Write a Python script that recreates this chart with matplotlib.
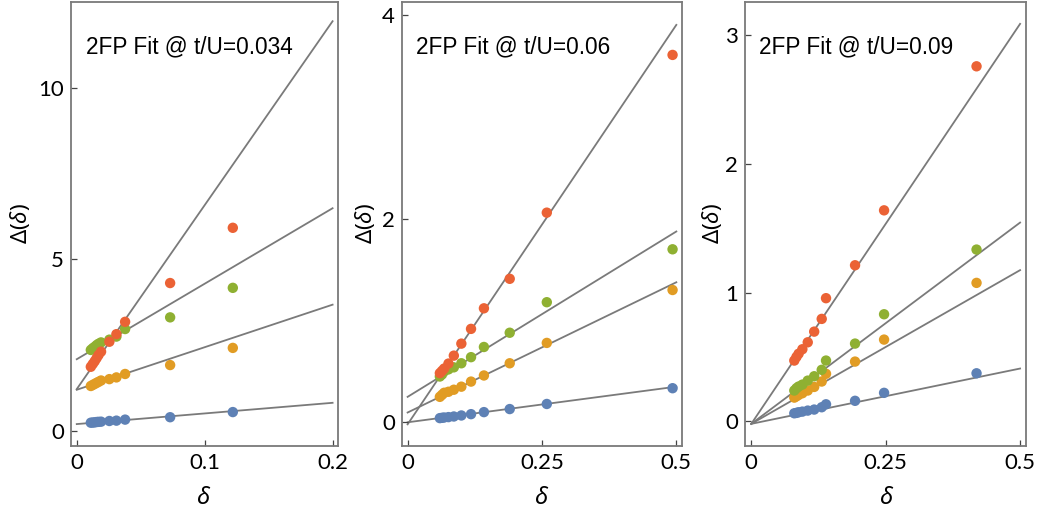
import numpy as np
import matplotlib
matplotlib.use('Agg')
import matplotlib.pyplot as plt

plt.rcParams['font.family'] = ['Lato', 'DejaVu Sans']
plt.rcParams['mathtext.fontset'] = 'custom'
plt.rcParams['mathtext.rm'] = 'Noto Sans'
plt.rcParams['mathtext.it'] = 'Noto Sans:italic'

# colores tipo Mathematica
c_blue, c_orange, c_green, c_red = '#5E81B5', '#E19C24', '#8FB032', '#EB6235'
c_fit = '#7a7a7a'

# ---- panel 1: t/U = 0.034
d1 = [0.011, 0.0125, 0.014, 0.0155, 0.017, 0.019, 0.0255, 0.031, 0.0378, 0.073, 0.122]
blue1 = [0.24, 0.245, 0.25, 0.26, 0.265, 0.27, 0.29, 0.30, 0.33, 0.40, 0.55]
orange1 = [1.31, 1.34, 1.37, 1.40, 1.43, 1.47, 1.51, 1.56, 1.66, 1.92, 2.42]
green1 = [2.36, 2.41, 2.45, 2.50, 2.54, 2.58, 2.66, 2.75, 2.97, 3.31, 4.17]
red1 = [1.87, 1.95, 2.03, 2.12, 2.21, 2.31, 2.60, 2.82, 3.18, 4.31, 5.92]
# ajustes (ordenada, pendiente)
fit1 = [(0.20, 3.1), (1.20, 12.4), (2.09, 22.0), (1.22, 53.6)]

# ---- panel 2: t/U = 0.06
d2 = [0.060, 0.064, 0.068, 0.076, 0.086, 0.100, 0.118, 0.142, 0.190, 0.259, 0.493]
blue2 = [0.041, 0.044, 0.047, 0.051, 0.057, 0.067, 0.080, 0.100, 0.13, 0.18, 0.335]
orange2 = [0.25, 0.27, 0.29, 0.30, 0.32, 0.35, 0.40, 0.46, 0.58, 0.78, 1.30]
green2 = [0.45, 0.47, 0.50, 0.52, 0.54, 0.58, 0.64, 0.74, 0.88, 1.18, 1.70]
red2 = [0.483, 0.505, 0.528, 0.577, 0.655, 0.773, 0.918, 1.12, 1.41, 2.06, 3.61]
fit2 = [(0.0, 0.70), (0.096, 2.56), (0.25, 3.25), (-0.02, 7.85)]

# ---- panel 3: t/U = 0.09
d3 = [0.080, 0.084, 0.088, 0.095, 0.105, 0.117, 0.131, 0.139, 0.193, 0.247, 0.419]
blue3 = [0.062, 0.065, 0.070, 0.075, 0.083, 0.091, 0.109, 0.132, 0.159, 0.221, 0.373]
orange3 = [0.184, 0.194, 0.205, 0.218, 0.239, 0.267, 0.309, 0.369, 0.464, 0.635, 1.076]
green3 = [0.239, 0.257, 0.270, 0.285, 0.316, 0.35, 0.40, 0.472, 0.604, 0.832, 1.335]
red3 = [0.472, 0.50, 0.525, 0.56, 0.614, 0.697, 0.796, 0.957, 1.213, 1.64, 2.76]
fit3 = [(-0.02, 0.86), (-0.02, 2.39), (-0.02, 3.13), (-0.02, 6.22)]

titulos = ['2FP Fit @ t/U=0.034', '2FP Fit @ t/U=0.06', '2FP Fit @ t/U=0.09']

fig = plt.figure(figsize=(10.39, 5.14), dpi=100)
W, H = 1039.0, 514.0

paneles = [
    dict(box=(71, 337.7), d=d1, ys=[blue1, orange1, green1, red1], fit=fit1, dmax=0.2,
         xlim=(-0.0045, 0.204), ylim=(-0.43, 12.5), xt=[0, 0.1, 0.2], xtl=['0', '0.1', '0.2'],
         yt=[0, 5, 10], ylab_x=20, xlab_x=204, tx=86),
    dict(box=(401.7, 681.7), d=d2, ys=[blue2, orange2, green2, red2], fit=fit2, dmax=0.5,
         xlim=(-0.011, 0.510), ylim=(-0.23, 4.13), xt=[0, 0.25, 0.5], xtl=['0', '0.25', '0.5'],
         yt=[0, 2, 4], ylab_x=365, xlab_x=541.7, tx=416),
    dict(box=(745, 1026), d=d3, ys=[blue3, orange3, green3, red3], fit=fit3, dmax=0.5,
         xlim=(-0.0117, 0.511), ylim=(-0.19, 3.26), xt=[0, 0.25, 0.5], xtl=['0', '0.25', '0.5'],
         yt=[0, 1, 2, 3], ylab_x=712, xlab_x=886.7, tx=759),
]

colores = [c_blue, c_orange, c_green, c_red]
top, bottom = 2.0, 445.7

for p, titulo in zip(paneles, titulos):
    x0, x1 = p['box']
    ax = fig.add_axes([x0 / W, 1 - bottom / H, (x1 - x0) / W, (bottom - top) / H])
    xx = np.array([0.0, p['dmax']])
    for (b, m) in p['fit']:
        ax.plot(xx, b + m * xx, color=c_fit, lw=1.3, zorder=1)
    for yv, c in zip(p['ys'], colores):
        ax.scatter(p['d'], yv, s=56, color=c, edgecolors='none', zorder=2)
    ax.set_xlim(*p['xlim'])
    ax.set_ylim(*p['ylim'])
    ax.set_xticks(p['xt'])
    ax.set_xticklabels(p['xtl'])
    ax.set_yticks(p['yt'])
    ax.tick_params(direction='in', length=4, width=0.9, color='#444444',
                   labelsize=16, pad=5, top=False, right=False)
    for s in ax.spines.values():
        s.set_color('#7a7a7a')
        s.set_linewidth(1.3)
    x_t = (p['tx'] - x0) / (x1 - x0)
    ax.text(x_t, (bottom - 46.7) / (bottom - top), titulo, transform=ax.transAxes,
            ha='left', va='center', fontsize=16.3, family=['Liberation Sans'])
    fig.text(p['ylab_x'] / W, 1 - 224 / H, r'$\Delta(\delta)$', rotation=90,
             ha='center', va='center', fontsize=16)
    fig.text(p['xlab_x'] / W, 1 - 497 / H, r'$\delta$', ha='center', va='center', fontsize=17)

fig.savefig('out.png', dpi=100)
